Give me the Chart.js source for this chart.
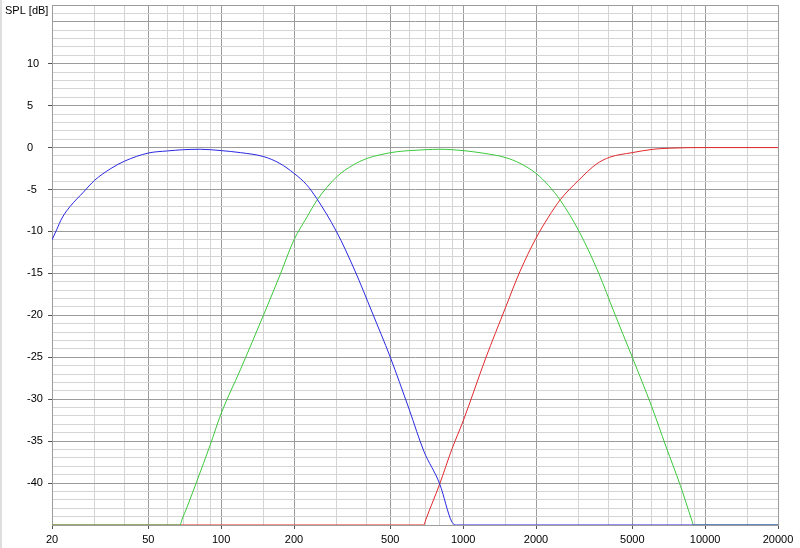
<!DOCTYPE html>
<html>
<head>
<meta charset="utf-8">
<title>SPL</title>
<script src="https://cdn.jsdelivr.net/npm/chart.js@4.4.0/dist/chart.umd.min.js"></script>
<style>
  html, body { margin: 0; padding: 0; background: #fff; }
  canvas { display: block; }
</style>
</head>
<body>
<canvas id="spl" width="800" height="548"></canvas>
<script>
// 低域（青）
const lowFreq = [20, 20.9, 22, 23.7, 27, 30, 35, 40, 50, 60, 70, 82, 100, 120, 150, 175, 200, 225, 248, 300, 356, 420, 500, 546, 600, 688, 800, 897, 940, 20000];
const lowDb   = [-11.0, -9.8, -8.4, -7.06, -5.3, -3.9, -2.5, -1.6, -0.65, -0.4, -0.25, -0.2, -0.36, -0.6, -1.08, -1.9, -3.07, -4.4, -6.05, -10.05, -14.6, -19.6, -25.0, -28.0, -31.3, -36.2, -40.1, -44.6, -45, -45];

// 中域（緑）
const midFreq = [20, 67.6, 69, 72, 79.3, 90, 100, 120, 150, 175, 200, 225, 250, 300, 350, 400, 455, 530, 600, 700, 800, 900, 1000, 1200, 1500, 1715, 2000, 2250, 2523, 3027, 3635, 4200, 5000, 6000, 6900, 7900, 8800, 8950, 20000];
const midDb   = [-45, -45, -44.3, -43.0, -39.8, -35.5, -31.7, -26.5, -19.9, -15.2, -11.0, -8.4, -6.2, -3.5, -2.1, -1.3, -0.85, -0.5, -0.36, -0.25, -0.2, -0.25, -0.36, -0.65, -1.2, -1.87, -3.07, -4.5, -6.3, -10.1, -15.0, -19.6, -25.0, -30.8, -35.7, -40.3, -44.4, -45, -45];

// 高域（赤）
const highFreq = [20, 688, 700, 800, 900, 1000, 1236, 1500, 1715, 2000, 2250, 2523, 3000, 3560, 4032, 5000, 6100, 7200, 10000, 20000];
const highDb   = [-45, -45, -44.4, -40.1, -35.9, -32.6, -25.2, -19.0, -14.8, -10.8, -8.3, -6.2, -3.9, -1.95, -1.15, -0.6, -0.2, -0.07, 0, 0];

// 目盛り
const xLabels = [20, 50, 100, 200, 500, 1000, 2000, 5000, 10000, 20000];
const xMinor  = [30, 40, 60, 70, 80, 90, 150, 300, 400, 600, 700, 800, 900, 1500, 3000, 4000, 6000, 7000, 8000, 9000, 15000];
const yLabels = [10, 5, 0, -5, -10, -15, -20, -25, -30, -35, -40];
const yMin = -45;
const yMax = 17;

const MAJOR = '#9c9c9c';
const MINOR = '#d4d4d4';
const TICK  = '#505050';
const FONT  = { family: '"Liberation Sans", Arial, sans-serif', size: 11 };

const xTicks = xLabels.concat(xMinor).sort((a, b) => a - b);
const yTicks = [];
for (let v = yMin; v <= yMax; v++) yTicks.push(v);

function toPoints(fs, ds) {
    return fs.map((f, i) => ({ x: f, y: ds[i] }));
}

// 左端の枠と軸タイトル
const decor = {
    id: 'decor',
    beforeDraw(chart) {
        const c = chart.ctx;
        c.save();
        c.fillStyle = '#dedede';
        c.fillRect(0, 0, 2, chart.height);
        c.restore();
    },
    afterDraw(chart) {
        const c = chart.ctx;
        c.save();
        c.font = '11px "Liberation Sans", Arial, sans-serif';
        c.fillStyle = '#000';
        c.textBaseline = 'middle';
        c.textAlign = 'left';
        c.fillText('SPL [dB]', 5, 11);
        c.restore();
    }
};

new Chart(document.getElementById('spl'), {
    type: 'line',
    data: {
        datasets: [
            { data: toPoints(lowFreq, lowDb), borderColor: 'rgb(40,40,225)' },
            { data: toPoints(midFreq, midDb), borderColor: 'rgb(60,200,60)' },
            { data: toPoints(highFreq, highDb), borderColor: 'rgb(225,40,45)' }
        ].map(d => Object.assign(d, {
            borderWidth: 1, pointRadius: 0, fill: false, cubicInterpolationMode: 'monotone'
        }))
    },
    options: {
        responsive: false,
        animation: false,
        layout: { padding: { left: 27, right: 22, top: 5, bottom: 0 } },
        plugins: { legend: { display: false }, tooltip: { enabled: false } },
        scales: {
            x: {
                type: 'logarithmic',
                min: 20,
                max: 20000,
                afterBuildTicks: s => { s.ticks = xTicks.map(v => ({ value: v })); },
                afterFit: s => { s.height = 23; s.paddingLeft = 0; s.paddingRight = 0; },
                ticks: {
                    autoSkip: false,
                    maxRotation: 0,
                    padding: 4,
                    color: '#000',
                    font: FONT,
                    callback: v => xLabels.includes(v) ? String(v) : ''
                },
                grid: {
                    tickLength: 4,
                    color: c => (c.tick && xLabels.includes(c.tick.value)) ? MAJOR : MINOR,
                    tickColor: c => (c.tick && xLabels.includes(c.tick.value)) ? TICK : 'rgba(0,0,0,0)'
                },
                border: { color: MAJOR }
            },
            y: {
                type: 'linear',
                min: yMin,
                max: yMax,
                afterBuildTicks: s => { s.ticks = yTicks.map(v => ({ value: v })); },
                afterFit: s => { s.width = 25; s.paddingTop = 0; s.paddingBottom = 0; },
                ticks: {
                    autoSkip: false,
                    crossAlign: 'far',
                    color: '#000',
                    font: FONT,
                    callback: v => yLabels.includes(v) ? String(v) : ''
                },
                grid: {
                    tickLength: 4,
                    color: c => (c.tick && (c.tick.value % 5 === 0 || c.tick.value === yMax)) ? MAJOR : MINOR,
                    tickColor: c => (c.tick && yLabels.includes(c.tick.value)) ? TICK : 'rgba(0,0,0,0)'
                },
                border: { color: MAJOR }
            }
        }
    },
    plugins: [decor]
});
</script>
</body>
</html>
